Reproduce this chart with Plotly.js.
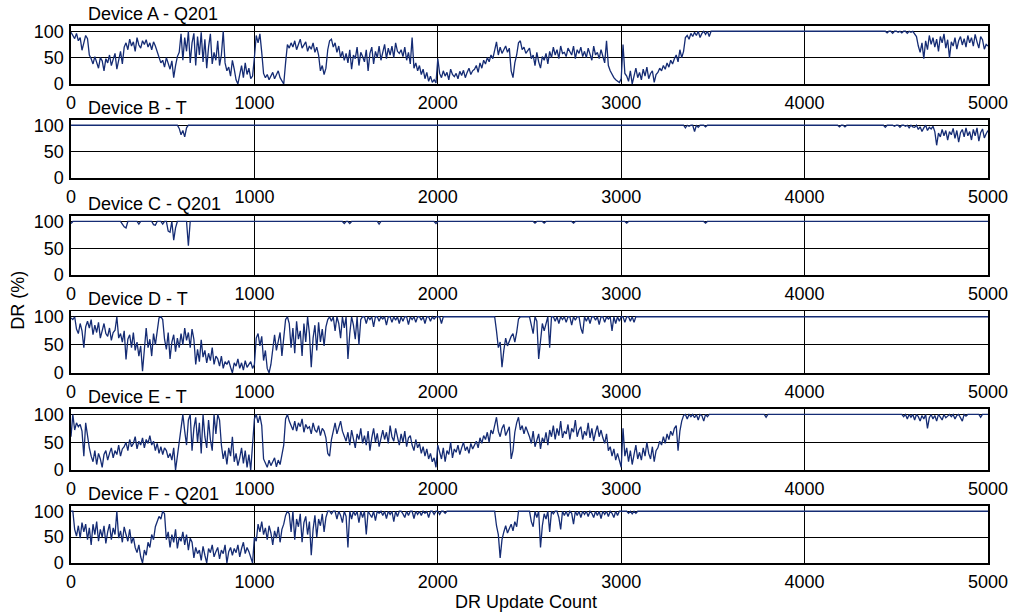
<!DOCTYPE html>
<html>
<head>
<meta charset="utf-8">
<script src="https://cdn.plot.ly/plotly-3.0.1.min.js"></script>
<style>html,body{margin:0;padding:0;background:#fff;}#chart{width:1014px;height:615px;}</style>
</head>
<body>
<div id="chart"></div>
<script>
// DR (%) sampled every 10 update counts (0 .. 5000)
const SAMPLE_STEP = 10;
const deviceNames = ["Device A - Q201","Device B - T","Device C - Q201","Device D - T","Device E - T","Device F - Q201"];
const xTicks = [0,1000,2000,3000,4000,5000];
const yTicks = [0,50,100];

const devA = [
98,93,86,96,82,88,64,78,92,86,
55,48,38,52,42,30,50,44,25,48,
40,55,35,48,58,28,45,62,38,70,
78,65,85,72,80,62,88,74,68,82,
75,84,70,78,65,80,72,60,48,40,
45,32,50,38,28,44,12,35,52,60,
95,45,88,62,100,40,78,96,35,90,
55,98,42,85,30,70,95,38,60,45,
82,35,55,100,40,25,32,15,45,28,
8,0,22,35,12,40,18,30,10,15,
50,92,78,95,60,20,12,18,8,15,
22,10,18,25,12,5,0,40,75,68,
78,70,82,65,76,85,68,74,80,62,
72,66,78,60,70,55,25,35,18,30,
65,82,85,70,78,60,72,50,62,45,
58,40,65,28,55,48,70,35,60,52,
42,65,25,58,70,38,62,50,72,45,
60,75,48,68,55,72,50,78,62,58,
65,52,70,45,60,38,88,30,40,25,
35,18,28,10,22,5,15,3,8,2,
48,20,12,25,15,22,8,28,18,14,
20,10,24,16,26,12,22,30,18,25,
28,35,22,40,30,45,38,50,42,55,
48,62,80,55,70,58,65,72,60,68,
25,12,40,55,78,82,65,70,58,62,
68,48,55,35,60,42,30,52,45,58,
38,62,50,70,55,65,48,72,58,60,
52,68,62,55,72,48,65,58,70,52,
62,50,68,58,45,72,55,60,48,65,
52,40,82,35,25,18,12,8,5,3,
10,75,20,15,5,25,0,18,30,12,
22,8,28,15,32,10,20,25,3,18,
22,30,25,35,28,40,32,45,38,48,
55,42,65,50,62,88,92,85,96,90,
98,92,100,88,96,100,94,100,90,100,
100,100,100,100,100,100,100,100,100,100,
100,100,100,100,100,100,100,100,100,100,
100,100,100,100,100,100,100,100,100,100,
100,100,100,100,100,100,100,100,100,100,
100,100,100,100,100,100,100,100,100,100,
100,100,100,100,100,100,100,100,100,100,
100,100,100,100,100,100,100,100,100,100,
100,100,100,100,100,100,100,100,100,100,
100,100,100,100,100,100,100,100,100,100,
100,100,100,100,100,97,100,100,96,100,
100,98,100,97,100,100,96,100,98,100,
95,90,72,60,78,48,82,65,92,75,
88,70,85,62,90,78,95,68,84,50,
80,72,88,66,82,90,74,86,70,92,
78,88,72,94,80,68,90,84,66,75,
72];

const devB = [
100,100,100,100,100,100,100,100,100,100,
100,100,100,100,100,100,100,100,100,100,
100,100,100,100,100,100,100,100,100,100,
100,100,100,100,100,100,100,100,100,100,
100,100,100,100,100,100,100,100,100,100,
100,100,100,100,100,100,100,100,100,94,
82,90,78,95,100,100,100,100,100,100,
100,100,100,100,100,100,100,100,100,100,
100,100,100,100,100,100,100,100,100,100,
100,100,100,100,100,100,100,100,100,100,
100,100,100,100,100,100,100,100,100,100,
100,100,100,100,100,100,100,100,100,100,
100,100,100,100,100,100,100,100,100,100,
100,100,100,100,100,100,100,100,100,100,
100,100,100,100,100,100,100,100,100,100,
100,100,100,100,100,100,100,100,100,100,
100,100,100,100,100,100,100,100,100,100,
100,100,100,100,100,100,100,100,100,100,
100,100,100,100,100,100,100,100,100,100,
100,100,100,100,100,100,100,100,100,100,
100,100,100,100,100,100,100,100,100,100,
100,100,100,100,100,100,100,100,100,100,
100,100,100,100,100,100,100,100,100,100,
100,100,100,100,100,100,100,100,100,100,
100,100,100,100,100,100,100,100,100,100,
100,100,100,100,100,100,100,100,100,100,
100,100,100,100,100,100,100,100,100,100,
100,100,100,100,100,100,100,100,100,100,
100,100,100,100,100,100,100,100,100,100,
100,100,100,100,100,100,100,100,100,100,
100,100,100,100,100,100,100,100,100,100,
100,100,100,100,100,100,100,100,100,100,
100,100,100,100,100,100,100,100,100,100,
100,100,100,100,100,95,100,98,100,100,
88,100,96,100,100,100,97,100,100,100,
100,100,100,100,100,100,100,100,100,100,
100,100,100,100,100,100,100,100,100,100,
100,100,100,100,100,100,100,100,100,100,
100,100,100,100,100,100,100,100,100,100,
100,100,100,100,100,100,100,100,100,100,
100,100,100,100,100,100,100,100,100,100,
100,100,100,100,100,100,100,100,100,97,
100,100,97,100,100,100,100,100,100,100,
100,100,100,100,100,100,100,100,100,100,
100,100,100,100,96,100,100,100,100,98,
100,100,96,100,100,98,100,95,100,97,
96,100,92,97,88,95,100,90,96,93,
98,88,62,85,78,92,80,90,72,88,
82,94,75,90,68,86,92,78,95,80,
88,72,92,80,95,70,86,93,76,84,
90];

const devC = [
96,100,100,100,100,100,100,100,100,100,
100,100,100,100,100,100,100,100,100,100,
100,100,100,100,100,100,100,100,95,90,
88,100,100,100,100,100,100,95,100,100,
100,100,100,100,100,94,93,100,100,100,
95,100,100,82,80,100,65,88,100,100,
100,100,100,100,55,100,100,100,100,100,
100,100,100,100,100,100,100,100,100,100,
100,100,100,100,100,100,100,100,100,100,
100,100,100,100,100,100,100,100,100,100,
100,100,100,100,100,100,100,100,100,100,
100,100,100,100,100,100,100,100,100,100,
100,100,100,100,100,100,100,100,100,100,
100,100,100,100,100,100,100,100,100,100,
100,100,100,100,100,100,100,100,100,96,
100,100,96,100,100,100,100,100,100,100,
100,100,100,100,100,100,100,100,95,100,
100,100,100,100,100,100,100,100,100,100,
100,100,100,100,100,100,100,100,100,100,
100,100,100,100,100,100,100,100,100,96,
100,100,100,100,100,100,100,100,100,100,
100,100,100,100,100,100,100,100,100,100,
100,100,100,100,100,100,100,100,100,100,
100,100,100,100,100,100,100,100,100,100,
100,100,100,100,100,100,100,100,100,100,
100,100,100,97,100,100,100,100,97,100,
100,100,100,100,100,100,100,100,100,100,
100,100,100,100,97,100,100,100,100,100,
100,100,100,100,100,100,100,100,100,100,
100,100,100,100,100,100,100,100,100,100,
100,100,100,97,100,100,100,100,100,100,
100,100,100,100,100,100,100,100,100,100,
100,100,100,100,100,100,100,100,100,100,
100,100,100,100,100,100,100,100,100,100,
100,100,100,100,100,100,97,100,100,100,
100,100,100,100,100,100,100,100,100,100,
100,100,100,100,100,100,100,100,100,100,
100,100,100,100,100,100,100,100,100,100,
100,100,100,100,100,100,100,100,100,100,
100,100,100,100,100,100,100,100,100,100,
100,100,100,100,100,100,100,100,100,100,
100,100,100,100,100,100,100,100,100,100,
100,100,100,100,100,100,100,100,100,100,
100,100,100,100,100,100,100,100,100,100,
100,100,100,100,100,100,100,100,100,100,
100,100,100,100,100,100,100,100,100,100,
100,100,100,100,100,100,100,100,100,100,
100,100,100,100,100,100,100,100,100,100,
100,100,100,100,100,100,100,100,100,100,
100,100,100,100,100,100,100,100,100,100,
100];

const devD = [
98,95,100,78,70,88,75,45,82,92,
80,95,68,85,72,90,62,78,88,70,
65,80,58,72,76,100,62,70,55,75,
24,60,68,45,72,40,55,30,48,3,
35,80,45,60,30,70,50,72,98,100,
95,60,42,72,25,55,68,38,62,45,
70,50,80,58,72,45,78,60,15,42,
20,59,28,40,18,35,22,45,15,30,
25,12,30,8,20,15,22,10,0,18,
12,25,8,18,5,22,10,15,20,8,
15,62,70,48,65,22,40,8,0,15,
45,68,40,55,72,30,62,95,100,88,
45,80,35,92,60,75,30,88,55,100,
70,10,62,85,40,90,55,78,48,82,
95,100,92,100,75,100,88,62,100,80,
100,25,70,100,85,60,100,50,95,100,
100,88,100,95,100,82,100,100,92,100,
96,100,85,100,100,90,100,94,100,88,
100,92,100,100,86,100,95,100,90,100,
100,94,100,88,100,100,92,100,96,100,
100,100,88,100,100,100,100,100,100,100,
100,100,100,100,100,100,100,100,100,100,
100,100,100,100,100,100,100,100,100,100,
100,100,75,45,55,10,40,62,48,58,
65,70,55,72,96,100,100,100,100,100,
100,85,70,100,92,25,60,88,75,90,
100,45,100,100,92,100,88,100,95,100,
90,100,100,85,100,94,100,100,80,70,
100,92,100,88,100,100,94,100,86,100,
100,90,100,96,100,75,100,88,100,92,
100,100,90,100,100,92,100,90,100,100,
100,100,100,100,100,100,100,100,100,100,
100,100,100,100,100,100,100,100,100,100,
100,100,100,100,100,100,100,100,100,100,
100,100,100,100,100,100,100,100,100,100,
100,100,100,100,100,100,100,100,100,100,
100,100,100,100,100,100,100,100,100,100,
100,100,100,100,100,100,100,100,100,100,
100,100,100,100,100,100,100,100,100,100,
100,100,100,100,100,100,100,100,100,100,
100,100,100,100,100,100,100,100,100,100,
100,100,100,100,100,100,100,100,100,100,
100,100,100,100,100,100,100,100,100,100,
100,100,100,100,100,100,100,100,100,100,
100,100,100,100,100,100,100,100,100,100,
100,100,100,100,100,100,100,100,100,100,
100,100,100,100,100,100,100,100,100,100,
100,100,100,100,100,100,100,100,100,100,
100,100,100,100,100,100,100,100,100,100,
100,100,100,100,100,100,100,100,100,100,
100];

const devE = [
60,100,72,85,78,82,70,25,85,60,
40,25,15,35,10,30,20,5,28,35,
18,30,40,22,35,28,45,25,38,42,
50,35,55,42,48,60,38,52,45,58,
40,55,48,62,45,52,35,48,30,42,
28,40,35,22,30,18,40,0,25,55,
80,100,70,45,90,100,35,75,95,50,
85,30,100,60,40,90,55,35,100,65,
100,90,45,20,35,10,40,25,60,15,
30,8,22,40,12,35,5,28,0,50,
92,100,85,98,80,20,12,5,18,8,
15,22,6,18,10,25,45,92,100,88,
80,72,88,70,85,78,92,68,82,75,
78,65,85,72,68,80,62,75,70,58,
30,25,55,72,85,65,78,88,70,60,
52,68,45,72,58,40,65,55,75,48,
62,45,70,35,58,75,50,66,42,60,
72,55,68,48,80,60,52,75,58,45,
65,50,70,42,58,62,45,35,55,40,
48,30,42,25,38,20,30,15,22,5,
45,30,20,40,15,35,28,50,22,38,
32,45,28,40,50,35,42,30,48,38,
45,52,40,58,48,62,55,68,50,72,
65,80,95,70,60,75,82,62,70,78,
20,35,68,85,95,72,80,65,78,70,
60,48,70,42,55,65,38,58,50,68,
45,72,60,80,55,75,62,88,58,70,
65,82,55,75,68,90,60,72,78,55,
70,62,85,58,75,52,68,80,60,72,
58,48,65,35,42,25,38,18,30,15,
5,75,25,40,15,35,10,28,45,20,
32,18,40,25,50,30,20,42,15,35,
40,52,45,60,48,65,55,70,62,75,
80,35,70,88,98,100,92,100,96,100,
94,100,90,100,98,88,100,96,100,100,
100,100,100,100,100,100,100,100,100,100,
100,100,100,100,100,100,100,100,100,100,
100,100,100,100,100,100,100,100,100,95,
100,100,100,100,100,100,100,100,100,100,
100,100,100,100,100,100,100,100,100,100,
100,100,100,100,100,100,100,100,100,100,
100,100,100,100,100,100,100,100,100,100,
100,100,100,100,100,100,100,100,100,100,
100,100,100,100,100,100,100,100,100,100,
100,100,100,100,100,100,100,100,100,100,
100,100,100,100,96,100,92,100,95,100,
90,100,96,88,98,92,100,75,94,100,
92,98,88,100,95,90,100,94,97,100,
96,100,92,98,100,95,88,100,97,100,
100,100,100,100,100,100,95,100,100,100,
100];

const devF = [
100,100,65,52,72,48,78,60,75,45,
68,35,75,55,80,42,65,50,72,38,
60,75,45,68,55,100,48,62,40,70,
55,42,65,38,50,30,20,35,12,0,
25,15,40,30,55,45,70,80,90,85,
100,95,45,60,30,55,40,65,28,50,
42,60,35,55,25,48,40,10,30,18,
25,5,32,15,0,28,20,35,12,22,
30,8,25,18,35,0,22,30,15,28,
20,35,12,28,40,18,30,22,10,0,
50,42,75,60,80,55,68,45,72,58,
35,62,48,70,40,65,75,92,100,95,
60,100,45,85,70,95,40,78,90,55,
80,15,65,92,50,85,72,95,60,88,
100,100,95,100,100,85,100,92,78,100,
90,30,100,85,100,92,100,78,100,88,
100,55,100,95,88,100,82,100,96,100,
92,100,86,100,94,100,80,100,90,100,
100,95,88,100,92,100,100,86,100,94,
100,92,100,96,100,88,100,100,94,100,
100,94,100,100,96,100,100,100,100,100,
100,100,100,100,100,100,100,100,100,100,
100,100,100,100,100,100,100,100,100,100,
100,100,72,55,10,45,60,72,58,68,
75,62,80,70,100,100,100,100,100,100,
100,80,70,100,88,100,30,72,95,85,
100,60,100,95,100,100,88,65,100,92,
100,90,100,96,75,100,92,100,88,100,
94,100,90,100,96,88,100,92,100,86,
100,94,100,90,100,96,88,100,92,100,
100,100,100,100,96,100,95,100,96,100,
100,100,100,100,100,100,100,100,100,100,
100,100,100,100,100,100,100,100,100,100,
100,100,100,100,100,100,100,100,100,100,
100,100,100,100,100,100,100,100,100,100,
100,100,100,100,100,100,100,100,100,100,
100,100,100,100,100,100,100,100,100,100,
100,100,100,100,100,100,100,100,100,100,
100,100,100,100,100,100,100,100,100,100,
100,100,100,100,100,100,100,100,100,100,
100,100,100,100,100,100,100,100,100,100,
100,100,100,100,100,100,100,100,100,100,
100,100,100,100,100,100,100,100,100,100,
100,100,100,100,100,100,100,100,100,100,
100,100,100,100,100,100,100,100,100,100,
100,100,100,100,100,100,100,100,100,100,
100,100,100,100,100,100,100,100,100,100,
100,100,100,100,100,100,100,100,100,100,
100,100,100,100,100,100,100,100,100,100,
100,100,100,100,100,100,100,100,100,100,
100];

const series = [devA, devB, devC, devD, devE, devF];

// panel vertical domains (paper coords), top to bottom
const domains = [[0.892,1.0],[0.717,0.825],[0.536,0.646],[0.354,0.469],[0.173,0.287],[0.0,0.106]];

const FONT = 'Liberation Sans, Arial, Helvetica, sans-serif';
const lineColor = '#152c74';

const traces = [];
const layout = {
  width: 1014, height: 615,
  margin: {l: 71, r: 26, t: 26, b: 52},
  paper_bgcolor: '#fff', plot_bgcolor: '#fff',
  showlegend: false,
  font: {family: FONT, size: 18, color: '#000'},
  annotations: []
};

series.forEach((vals, i) => {
  const n = i + 1;
  const xs = vals.map((_, k) => k * SAMPLE_STEP);
  traces.push({
    type: 'scatter', mode: 'lines',
    x: xs, y: vals,
    xaxis: 'x' + n, yaxis: 'y' + n,
    line: {color: lineColor, width: 1.3},
    hoverinfo: 'skip'
  });
  const common = {
    showgrid: true, gridcolor: '#000', gridwidth: 1,
    showline: true, mirror: true, linecolor: '#000', linewidth: 1.6,
    zeroline: false, ticks: '', fixedrange: true,
    tickfont: {family: FONT, size: 18, color: '#000'}
  };
  layout['xaxis' + n] = Object.assign({}, common, {
    domain: [0, 1], anchor: 'y' + n,
    range: [0, 5000], tickmode: 'array', tickvals: xTicks,
    ticktext: xTicks.map(String), ticklabelstandoff: 2
  });
  layout['yaxis' + n] = Object.assign({}, common, {
    domain: domains[i], anchor: 'x' + n,
    range: [0, 110], tickmode: 'array', tickvals: yTicks,
    ticktext: yTicks.map(String), ticklabelstandoff: 2
  });
  layout.annotations.push({
    xref: 'paper', yref: 'paper',
    x: 15 / 917, y: domains[i][1],
    xanchor: 'left', yanchor: 'bottom', yshift: 0,
    text: deviceNames[i], showarrow: false,
    font: {family: FONT, size: 18, color: '#000'}
  });
});

layout.annotations.push({
  xref: 'paper', yref: 'paper', x: 0.496, y: -0.072,
  xanchor: 'center', yanchor: 'middle',
  text: 'DR Update Count', showarrow: false,
  font: {family: FONT, size: 18, color: '#000'}
});
layout.annotations.push({
  xref: 'paper', yref: 'paper', x: -0.058, y: 0.49,
  xanchor: 'center', yanchor: 'middle', textangle: -90,
  text: 'DR (%)', showarrow: false,
  font: {family: FONT, size: 18, color: '#000'}
});

Plotly.newPlot('chart', traces, layout, {displayModeBar: false, staticPlot: true});
</script>
</body>
</html>
